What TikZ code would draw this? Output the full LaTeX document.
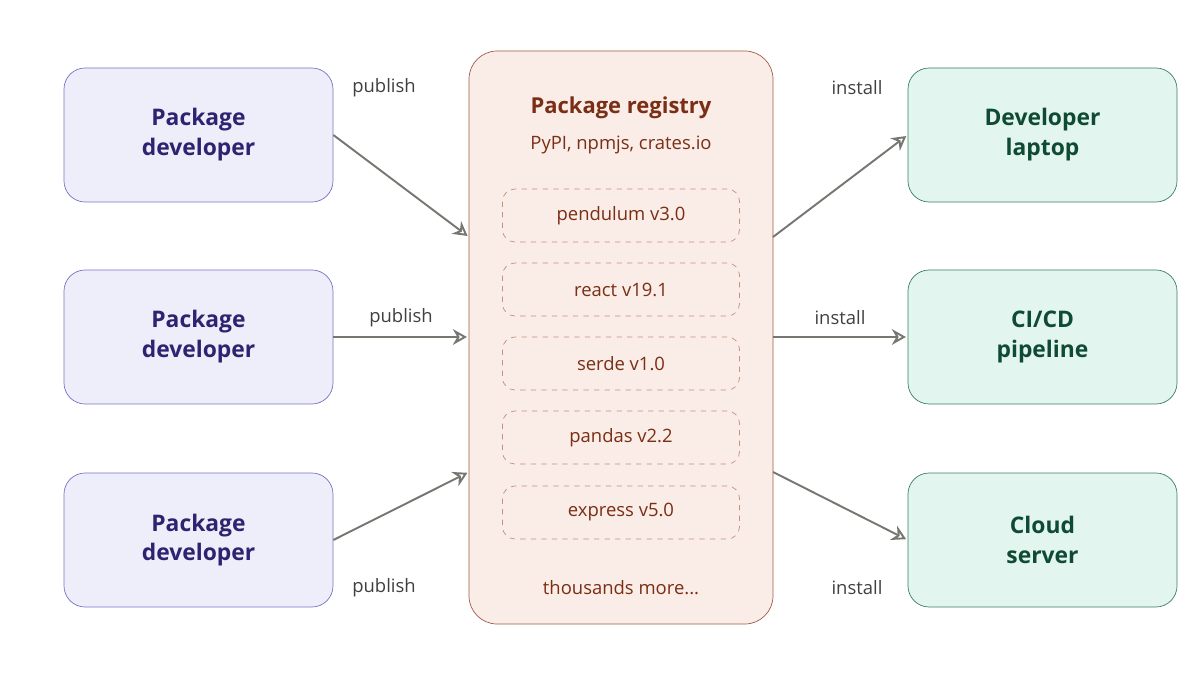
\documentclass[tikz,border=0pt]{standalone}
\usepackage{fontspec}
\setmainfont{Open Sans}
\usetikzlibrary{arrows.meta, positioning}

\definecolor{devfill}{HTML}{EEEEFB}
\definecolor{devdraw}{HTML}{7A72C4}
\definecolor{devtext}{HTML}{2E2370}
\definecolor{regfill}{HTML}{FAECE7}
\definecolor{regdraw}{HTML}{A05A48}
\definecolor{regtext}{HTML}{7A2E14}
\definecolor{pkgdraw}{HTML}{C49080}
\definecolor{tgtfill}{HTML}{E2F5EE}
\definecolor{tgtdraw}{HTML}{3A8064}
\definecolor{tgttext}{HTML}{0F4A34}
\definecolor{arr}{HTML}{777772}

\tikzset{
	dev/.style={draw=devdraw, fill=devfill, rounded corners=12pt, minimum width=269*0.02cm, minimum height=134*0.02cm, align=center, text=devtext, font=\fontsize{13}{17}\selectfont\bfseries},
	tgt/.style={dev, draw=tgtdraw, fill=tgtfill, text=tgttext},
	pkg/.style={draw=pkgdraw, dashed, rounded corners=7pt, minimum width=237*0.02cm, minimum height=53*0.02cm, text=regtext, font=\fontsize{10.5}{13}\selectfont},
	lbl/.style={text=black!75, font=\fontsize{10.5}{13}\selectfont},
	flow/.style={-{Stealth[open, length=8pt, width=9pt, fill=none]}, draw=arr, line width=1.1pt, shorten >=1pt}
}

\begin{document}
\begin{tikzpicture}[x=0.02cm, y=-0.02cm]
	\useasboundingbox (0,0) rectangle (1200,675);

	% registry
	\node (reg) [draw=regdraw, fill=regfill, rounded corners=16pt, minimum width=304*0.02cm, minimum height=573*0.02cm] at (621,337.5) {};
	\node (regtitle) [text=regtext, font=\fontsize{12.5}{15}\selectfont\bfseries] at (621,108) {Package registry};
	\node (regsub) [text=regtext, font=\fontsize{10.5}{13}\selectfont] at (621,145) {PyPI, npmjs, crates.io};
	\node (p1) [pkg] at (621,215.5) {pendulum v3.0};
	\node (p2) [pkg] at (621,289.5) {react v19.1};
	\node (p3) [pkg] at (621,363.5) {serde v1.0};
	\node (p4) [pkg] at (621,437.5) {pandas v2.2};
	\node (p5) [pkg] at (621,512.5) {express v5.0};
	\node (more) [text=regtext, font=\fontsize{10.5}{13}\selectfont] at (621,588) {thousands more...};

	% developers
	\node (dev1) [dev] at (198.5,135) {Package\\developer};
	\node (dev2) [dev] at (198.5,337) {Package\\developer};
	\node (dev3) [dev] at (198.5,540) {Package\\developer};

	% targets
	\node (laptop) [tgt] at (1042.5,135) {Developer\\laptop};
	\node (cicd) [tgt] at (1042.5,337) {CI/CD\\pipeline};
	\node (cloud) [tgt] at (1042.5,540) {Cloud\\server};

	\coordinate (inA) at (469,237);
	\coordinate (inC) at (469,472);
	\coordinate (outA) at (773,237);
	\coordinate (outC) at (773,472);

	\draw[flow] (dev1.east) -- (inA);
	\draw[flow] (dev2.east) -- (reg.west |- dev2.east);
	\draw[flow] (dev3.east) -- (inC);
	\draw[flow] (outA) -- (laptop.west);
	\draw[flow] (reg.east |- cicd.west) -- (cicd.west);
	\draw[flow] (outC) -- (cloud.west);

	\node (pub1) [lbl] at (384,88) {publish};
	\node (pub2) [lbl] at (401,318) {publish};
	\node (pub3) [lbl] at (384,588) {publish};
	\node (ins1) [lbl] at (857,88) {install};
	\node (ins2) [lbl] at (840,318) {install};
	\node (ins3) [lbl] at (857,588) {install};
\end{tikzpicture}
\end{document}
